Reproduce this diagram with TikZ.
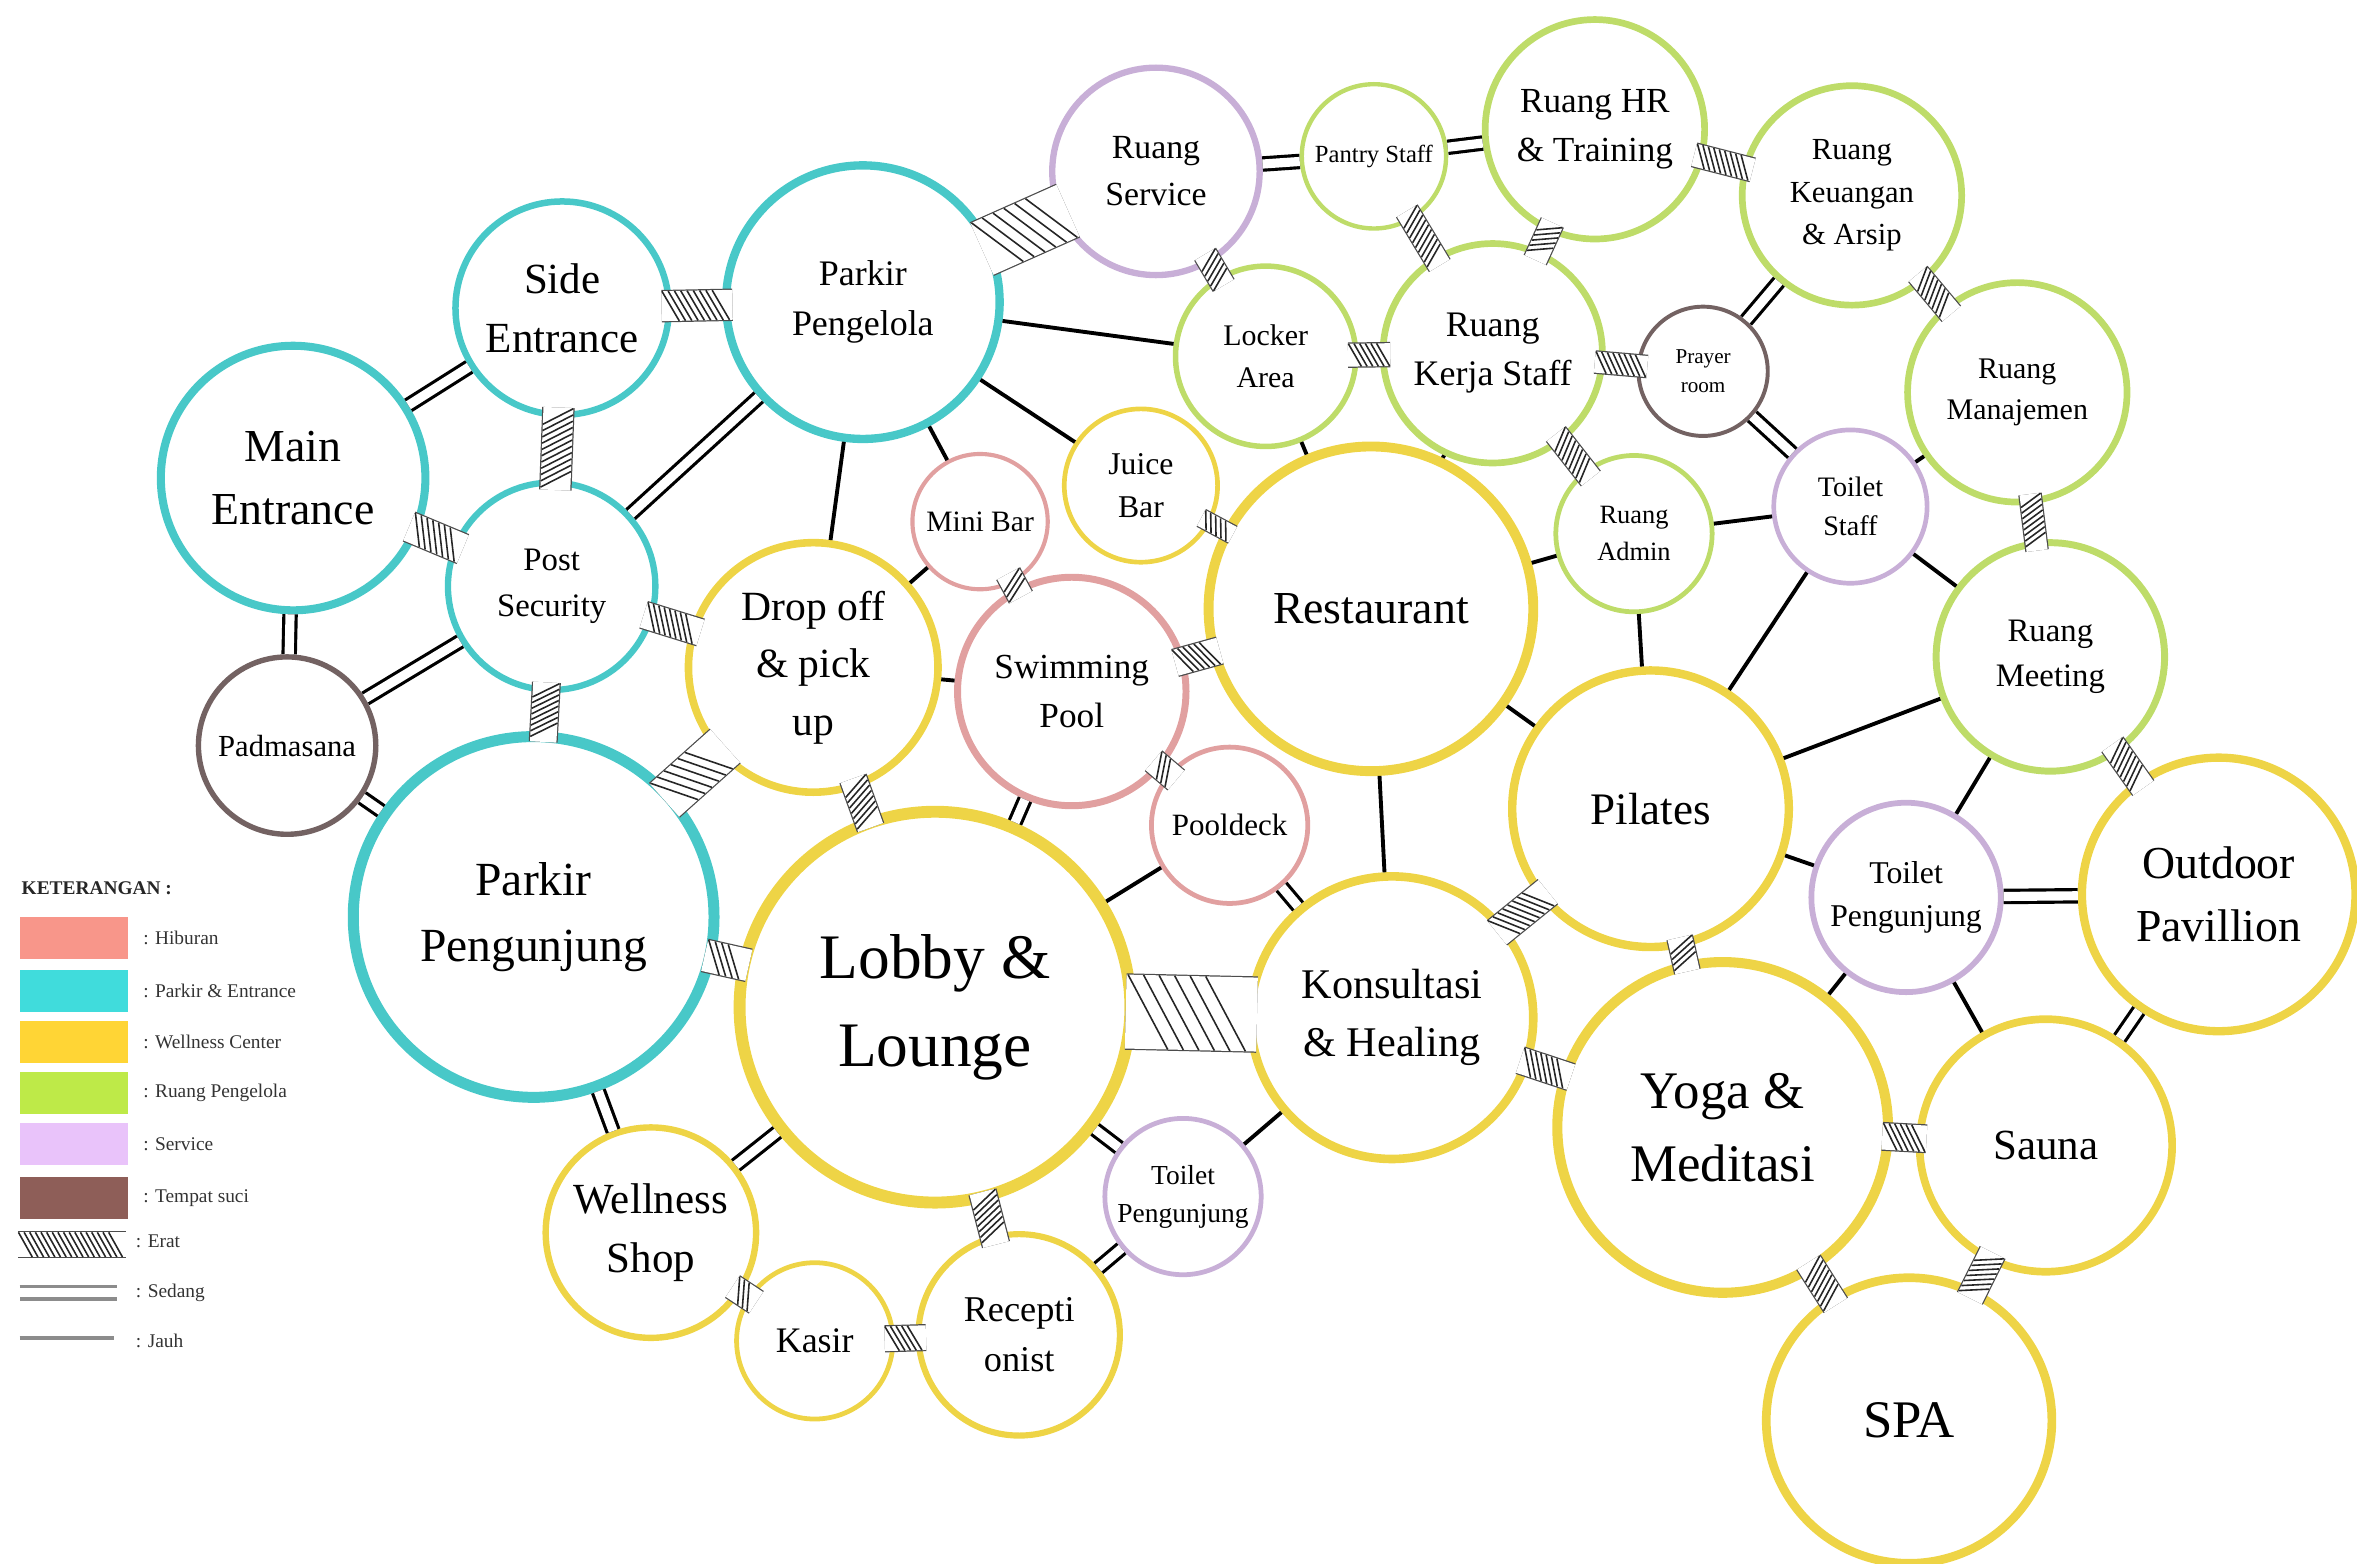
\documentclass[tikz,border=0pt]{standalone}
\usepackage{fontspec}
\setmainfont{Liberation Serif}
\usetikzlibrary{positioning}
\usetikzlibrary{calc}
\usetikzlibrary{decorations.markings}

\definecolor{parkirc}{RGB}{72,200,200}
\definecolor{wellc}{RGB}{238,212,70}
\definecolor{pengc}{RGB}{190,220,105}
\definecolor{servc}{RGB}{200,175,215}
\definecolor{hibc}{RGB}{225,160,160}
\definecolor{sucic}{RGB}{115,98,98}
\definecolor{lgHib}{RGB}{248,150,138}
\definecolor{lgPark}{RGB}{64,220,220}
\definecolor{lgWell}{RGB}{255,213,53}
\definecolor{lgPeng}{RGB}{190,234,72}
\definecolor{lgServ}{RGB}{233,195,250}
\definecolor{lgSuci}{RGB}{142,94,88}

\newcommand{\tsz}[1]{\fontsize{#1}{\dimexpr #1pt*138/100\relax}\selectfont}

% hatched band between two nodes (erat), a bit into both rings
\newcommand{\erat}[3][7pt]{%
  \path (#2) -- (#3) coordinate[pos=0] (erA) coordinate[pos=1] (erB);
  \draw[eratband=#1] ($(erA)!-3pt!(erB)$) -- ($(erB)!-3pt!(erA)$);
  \pgfmathsetlengthmacro{\hstep}{max(1.6pt,0.21*#1)}%
  \pgfmathsetlengthmacro{\hoff}{0.3*#1}%
  \path[erathatch=#1] ($(erA)!-3pt!(erB)$) -- ($(erB)!-3pt!(erA)$);}

\tikzset{eratband/.style = {draw=black!70, line width=0.35pt, double=white, double distance=#1}}
\tikzset{erathatch/.style = {decorate, decoration={markings,
    mark=between positions \hoff and -\hoff step \hstep with
    {\draw[black!85, line width=0.45pt] (-0.28*#1,0.5*#1) -- (0.28*#1,-0.5*#1);}}}}

\begin{document}
\begin{tikzpicture}[x=0.015cm, y=-0.015cm]
    \tikzset{room/.style = {shape=circle, inner sep=0pt, align=center, text=black}}
    \tikzset{rad/.style = {minimum size=#1*0.03cm, line width=#1*0.026pt}}
    \tikzset{parkir/.style = {room, draw=parkirc}}
    \tikzset{wellness/.style = {room, draw=wellc}}
    \tikzset{pengelola/.style = {room, draw=pengc}}
    \tikzset{service/.style = {room, draw=servc}}
    \tikzset{hiburan/.style = {room, draw=hibc}}
    \tikzset{suci/.style = {room, draw=sucic}}
    \tikzset{sedang/.style = {draw=black, line width=0.9pt, double=white, double distance=2.6pt}}
    \tikzset{jauh/.style = {draw=black, line width=1.1pt}}
    \tikzset{legbox/.style = {shape=rectangle, draw=none, minimum width=72*0.015cm, minimum height=28*0.015cm, inner sep=0pt}}
    \tikzset{legtext/.style = {font=\tsz{5.5}, text=black!80, inner sep=0pt}}

    \useasboundingbox (0,0) rectangle (1568,1040);

    % parkir & entrance
    \node[parkir, rad=88, font=\tsz{13}] (mainent) at (195,318) {Main\\Entrance};
    \node[parkir, rad=71, font=\tsz{12.2}] (sideent) at (374,205) {Side\\Entrance};
    \node[parkir, rad=91, font=\tsz{10.2}] (parkpeng) at (574,201) {Parkir\\Pengelola};
    \node[parkir, rad=69, font=\tsz{9.3}] (postsec) at (367,390) {Post\\Security};
    \node[parkir, rad=120, font=\tsz{13.5}] (parkpgj) at (355,610) {Parkir\\Pengunjung};

    % tempat suci
    \node[suci, rad=59, font=\tsz{8.7}] (padma) at (191,496) {Padmasana};
    \node[suci, rad=43, font=\tsz{6}] (prayer) at (1133,247) {Prayer\\room};

    % hiburan
    \node[hiburan, rad=45, font=\tsz{8.4}] (minibar) at (652,347) {Mini Bar};
    \node[hiburan, rad=76, font=\tsz{10}] (swim) at (713,460) {Swimming\\Pool};
    \node[hiburan, rad=52, font=\tsz{8.8}] (pooldeck) at (818,549) {Pooldeck};

    % wellness center
    \node[wellness, rad=83, font=\tsz{11.8}] (dropoff) at (541,444) {Drop off\\\& pick\\up};
    \node[wellness, rad=51, font=\tsz{9}] (juice) at (759,323) {Juice\\Bar};
    \node[wellness, rad=130, font=\tsz{18}] (lobby) at (622,670) {Lobby \&\\Lounge};
    \node[wellness, rad=108, font=\tsz{13}] (resto) at (912,405) {Restaurant};
    \node[wellness, rad=94, font=\tsz{12}] (konsul) at (926,677) {Konsultasi\\\& Healing};
    \node[wellness, rad=70, font=\tsz{12.2}] (wshop) at (433,820) {Wellness\\Shop};
    \node[wellness, rad=52, font=\tsz{10.2}] (kasir) at (542,892) {Kasir};
    \node[wellness, rad=67, font=\tsz{10.3}] (recep) at (678,888) {Recepti\\onist};
    \node[wellness, rad=92, font=\tsz{12.8}] (pilates) at (1098,538) {Pilates};
    \node[wellness, rad=91, font=\tsz{13}] (outdoor) at (1476,595) {Outdoor\\Pavillion};
    \node[wellness, rad=110, font=\tsz{15}] (yoga) at (1146,750) {Yoga \&\\Meditasi};
    \node[wellness, rad=84, font=\tsz{12.2}] (sauna) at (1361,762) {Sauna};
    \node[wellness, rad=95, font=\tsz{15}] (spa) at (1270,945) {SPA};

    % ruang pengelola
    \node[pengelola, rad=48, font=\tsz{7}] (pantry) at (914,104) {Pantry Staff};
    \node[pengelola, rad=73, font=\tsz{10}] (hr) at (1061,86) {Ruang HR\\\& Training};
    \node[pengelola, rad=73, font=\tsz{8.7}] (keuangan) at (1232,130) {Ruang\\Keuangan\\\& Arsip};
    \node[pengelola, rad=60, font=\tsz{8.5}] (locker) at (842,237) {Locker\\Area};
    \node[pengelola, rad=73, font=\tsz{10.2}] (kerja) at (993,235) {Ruang\\Kerja Staff};
    \node[pengelola, rad=73, font=\tsz{8.5}] (manajemen) at (1342,261) {Ruang\\Manajemen};
    \node[pengelola, rad=52, font=\tsz{7.5}] (admin) at (1087,355) {Ruang\\Admin};
    \node[pengelola, rad=76, font=\tsz{9.3}] (meeting) at (1364,437) {Ruang\\Meeting};

    % service
    \node[service, rad=69, font=\tsz{9.6}] (rservice) at (769,114) {Ruang\\Service};
    \node[service, rad=52, font=\tsz{7.8}] (toiletb) at (787,796) {Toilet\\Pengunjung};
    \node[service, rad=51, font=\tsz{8}] (tstaff) at (1231,337) {Toilet\\Staff};
    \node[service, rad=63, font=\tsz{9}] (toiletr) at (1268,597) {Toilet\\Pengunjung};

    % erat
    \erat[8.5pt]{mainent}{postsec}
    \erat[8.5pt]{sideent}{parkpeng}
    \erat[8.5pt]{sideent}{postsec}
    \erat[7.5pt]{postsec}{parkpgj}
    \erat[7.5pt]{postsec}{dropoff}
    \erat[12.5pt]{parkpgj}{dropoff}
    \erat[9pt]{parkpgj}{lobby}
    \erat[16pt]{parkpeng}{rservice}
    \erat[7.5pt]{dropoff}{lobby}
    \erat[7pt]{minibar}{swim}
    \erat[5pt]{juice}{resto}
    \erat[7.5pt]{swim}{resto}
    \erat[7pt]{swim}{pooldeck}
    \erat[21pt]{lobby}{konsul}
    \erat[7.5pt]{lobby}{recep}
    \erat[7pt]{wshop}{kasir}
    \erat[7pt]{kasir}{recep}
    \erat[8.5pt]{konsul}{pilates}
    \erat[7.5pt]{konsul}{yoga}
    \erat[6.5pt]{rservice}{locker}
    \erat[6.5pt]{locker}{kerja}
    \erat[6.5pt]{pantry}{kerja}
    \erat[6.5pt]{hr}{kerja}
    \erat[6.5pt]{hr}{keuangan}
    \erat[6pt]{kerja}{prayer}
    \erat[6.5pt]{kerja}{admin}
    \erat[6.5pt]{keuangan}{manajemen}
    \erat[6pt]{manajemen}{meeting}
    \erat[7pt]{meeting}{outdoor}
    \erat[7pt]{pilates}{yoga}
    \erat[7.5pt]{yoga}{sauna}
    \erat[7.5pt]{yoga}{spa}
    \erat[7.5pt]{sauna}{spa}

    % sedang
    \draw[sedang] (mainent) -- (sideent);
    \draw[sedang] (mainent) -- (padma);
    \draw[sedang] (postsec) -- (padma);
    \draw[sedang] (parkpeng) -- (postsec);
    \draw[sedang] (padma) -- (parkpgj);
    \draw[sedang] (parkpgj) -- (wshop);
    \draw[sedang] (swim) -- (lobby);
    \draw[sedang] (pooldeck) -- (konsul);
    \draw[sedang] (lobby) -- (wshop);
    \draw[sedang] (lobby) -- (toiletb);
    \draw[sedang] (recep) -- (toiletb);
    \draw[sedang] (rservice) -- (pantry);
    \draw[sedang] (pantry) -- (hr);
    \draw[sedang] (prayer) -- (keuangan);
    \draw[sedang] (prayer) -- (tstaff);
    \draw[sedang] (toiletr) -- (outdoor);
    \draw[sedang] (outdoor) -- (sauna);

    % jauh
    \draw[jauh] (parkpeng) -- (locker);
    \draw[jauh] (parkpeng) -- (juice);
    \draw[jauh] (parkpeng) -- (minibar);
    \draw[jauh] (parkpeng) -- (dropoff);
    \draw[jauh] (dropoff) -- (minibar);
    \draw[jauh] (dropoff) -- (swim);
    \draw[jauh] (pooldeck) -- (lobby);
    \draw[jauh] (toiletb) -- (konsul);
    \draw[jauh] (resto) -- (konsul);
    \draw[jauh] (resto) -- (locker);
    \draw[jauh] (resto) -- (kerja);
    \draw[jauh] (resto) -- (admin);
    \draw[jauh] (resto) -- (pilates);
    \draw[jauh] (admin) -- (tstaff);
    \draw[jauh] (admin) -- (pilates);
    \draw[jauh] (tstaff) -- (manajemen);
    \draw[jauh] (tstaff) -- (meeting);
    \draw[jauh] (tstaff) -- (pilates);
    \draw[jauh] (meeting) -- (pilates);
    \draw[jauh] (meeting) -- (toiletr);
    \draw[jauh] (pilates) -- (toiletr);
    \draw[jauh] (toiletr) -- (yoga);
    \draw[jauh] (toiletr) -- (sauna);

    % keterangan
    \node[font=\tsz{5.5}\bfseries, text=black!85, anchor=west, inner sep=0pt] (legtitle) at (14,591) {KETERANGAN :};
    \node[legbox, fill=lgHib] (lghib) at (49,624) {};
    \node[legbox, fill=lgPark] (lgpark) at (49,659) {};
    \node[legbox, fill=lgWell] (lgwell) at (49,693) {};
    \node[legbox, fill=lgPeng] (lgpeng) at (49,727) {};
    \node[legbox, fill=lgServ] (lgserv) at (49,761) {};
    \node[legbox, fill=lgSuci] (lgsuci) at (49,797) {};
    \node[legtext, right=4pt of lghib] {: Hiburan};
    \node[legtext, right=4pt of lgpark] {: Parkir \& Entrance};
    \node[legtext, right=4pt of lgwell] {: Wellness Center};
    \node[legtext, right=4pt of lgpeng] {: Ruang Pengelola};
    \node[legtext, right=4pt of lgserv] {: Service};
    \node[legtext, right=4pt of lgsuci] {: Tempat suci};

    \coordinate (lgE1) at (19,828);
    \coordinate (lgE2) at (77,828);
    \coordinate (lgS1) at (13,860);
    \coordinate (lgS2) at (78,860);
    \coordinate (lgJ1) at (13,890);
    \coordinate (lgJ2) at (76,890);
    \erat[7pt]{lgE1}{lgE2}
    \draw[sedang, draw=black!45] (lgS1) -- (lgS2);
    \draw[jauh, draw=black!45] (lgJ1) -- (lgJ2);
    \node[legtext, anchor=west] (lgerat) at (90,826) {: Erat};
    \node[legtext, anchor=west] (lgsedang) at (90,860) {: Sedang};
    \node[legtext, anchor=west] (lgjauh) at (90,892) {: Jauh};
\end{tikzpicture}
\end{document}
